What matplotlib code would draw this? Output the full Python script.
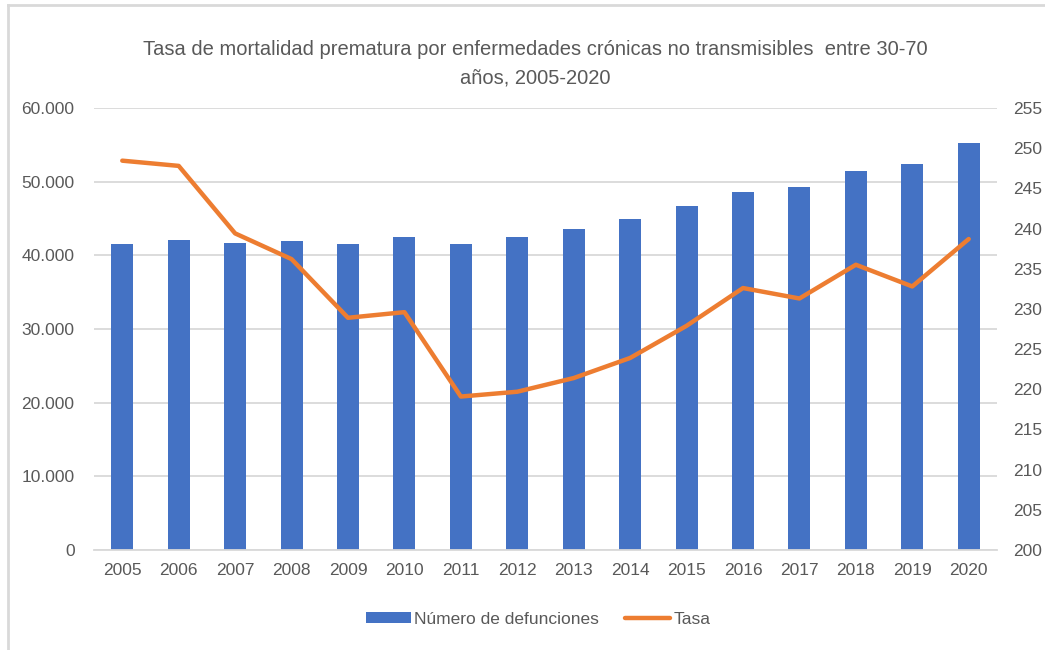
import numpy as np
import matplotlib
matplotlib.use("Agg")
import matplotlib.pyplot as plt
from matplotlib.ticker import FuncFormatter
from matplotlib.lines import Line2D

years = ["2005", "2006", "2007", "2008", "2009", "2010", "2011", "2012",
         "2013", "2014", "2015", "2016", "2017", "2018", "2019", "2020"]
defunciones = [41500, 42150, 41700, 42000, 41500, 42450, 41550, 42450,
               43550, 44950, 46700, 48600, 49300, 51450, 52350, 55200]
tasa = [248.45, 247.8, 239.4, 236.2, 228.9, 229.6, 219.1, 219.7,
        221.4, 223.9, 227.9, 232.6, 231.3, 235.5, 232.8, 238.7]

title = "Tasa de mortalidad prematura por enfermedades crónicas no transmisibles  entre 30-70\naños, 2005-2020"

plt.rcParams['font.family'] = ['Liberation Sans', 'DejaVu Sans']
txt = "#595959"
blue = "#4472C4"
orange = "#ED7D31"
grid = "#D9D9D9"

fig = plt.figure(figsize=(10.45, 6.5), dpi=100)
ax = fig.add_axes([0.09, 0.1538, 0.864, 0.6800])
ax2 = ax.twinx()

x = np.arange(len(years))
ax.bar(x, defunciones, width=0.39, color=blue, zorder=2, label="Número de defunciones")
ax2.plot(x, tasa, color=orange, lw=3.2, solid_capstyle="round", label="Tasa", zorder=3)

ax.set_xlim(-0.5, len(years) - 0.5)
ax.set_ylim(0, 60000)
ax.set_yticks(np.arange(0, 60001, 10000))
ax.yaxis.set_major_formatter(FuncFormatter(lambda v, p: f"{int(v):,}".replace(",", ".")))
ax2.set_ylim(200, 255)
ax2.set_yticks(np.arange(200, 256, 5))

ax.set_xticks(x)
ax.set_xticklabels(years)
ax.grid(axis="y", color=grid, lw=1.3, zorder=0)
ax.set_axisbelow(True)

for a in (ax, ax2):
    for s in a.spines.values():
        s.set_visible(False)
    a.tick_params(length=0, colors=txt, labelsize=12.5)
ax.tick_params(axis="y", pad=14)
ax.tick_params(axis="x", pad=9)
ax2.tick_params(axis="y", pad=12)
ax.spines["bottom"].set_visible(True)
ax.spines["bottom"].set_color(grid)
ax.spines["bottom"].set_linewidth(1.3)

fig.text(0.512, 0.902, title, ha="center", va="center", fontsize=14.5, color=txt,
         linespacing=1.65)

h1, l1 = ax.get_legend_handles_labels()
h2, l2 = ax2.get_legend_handles_labels()
fig.legend(h1 + h2, l1 + l2, loc="center", bbox_to_anchor=(0.515, 0.047), ncol=2,
           frameon=False, fontsize=12.5, labelcolor=txt, handlelength=2.6,
           handleheight=0.6, handletextpad=0.2, columnspacing=1.5)

# light frame: top and left edges only
fig.add_artist(Line2D([0.008, 1.0], [0.992, 0.992], transform=fig.transFigure,
                      color=grid, lw=2))
fig.add_artist(Line2D([0.008, 0.008], [0.0, 0.992], transform=fig.transFigure,
                      color=grid, lw=2))

fig.savefig("out.png", dpi=100)
